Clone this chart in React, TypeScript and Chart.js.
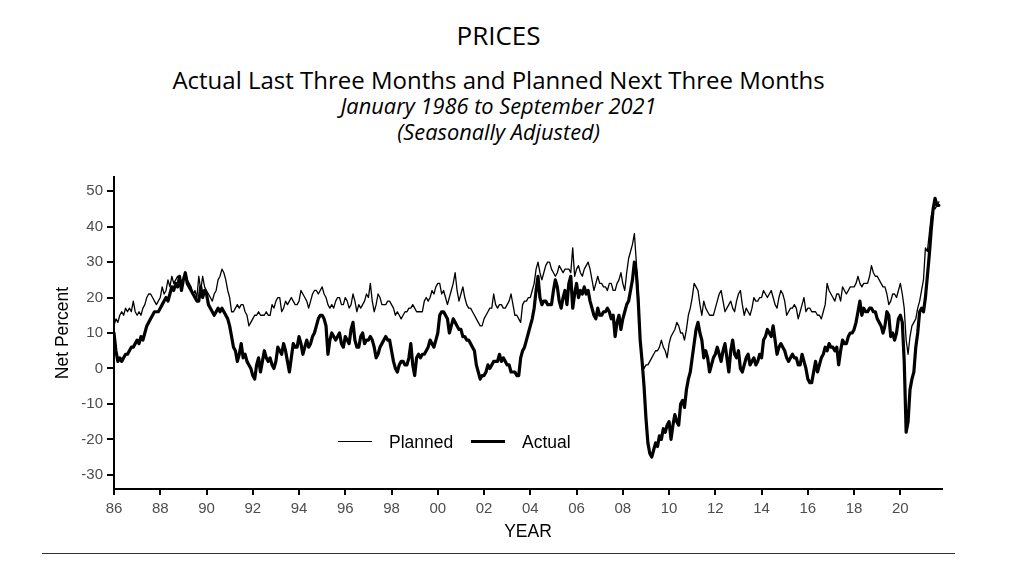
import React, { useEffect, useRef } from "react";
import { Chart, registerables } from "chart.js";

Chart.register(...registerables);

// Monthly data, January 1986 to September 2021
const START_YEAR = 1986;

const planned: number[] = [
  // 1986
  12, 14, 13, 15, 16, 15, 17, 16, 17, 16, 19, 16,
  // 1987
  15, 16, 15, 17, 18, 20, 21, 21, 20, 19, 18, 19,
  // 1988
  20, 23, 21, 22, 25, 23, 26, 24, 25, 26, 25, 24,
  // 1989
  25, 27, 25, 24, 23, 21, 22, 20, 26, 22, 26, 23,
  // 1990
  22, 21, 20, 19, 21, 22, 25, 26, 28, 27, 25, 22,
  // 1991
  20, 16, 16, 17, 18, 17, 18, 18, 16, 15, 12, 13,
  // 1992
  14, 15, 15, 16, 15, 15, 15, 16, 15, 15, 18, 17,
  // 1993
  19, 20, 20, 16, 17, 19, 18, 19, 20, 19, 18, 18,
  // 1994
  19, 22, 21, 20, 19, 17, 19, 21, 22, 22, 21, 22,
  // 1995
  23, 21, 20, 18, 17, 18, 17, 19, 20, 20, 18, 18,
  // 1996
  20, 19, 17, 18, 21, 19, 16, 18, 17, 18, 19, 21,
  // 1997
  20, 24, 19, 16, 18, 21, 20, 18, 18, 18, 19, 19,
  // 1998
  18, 17, 15, 16, 15, 14, 15, 16, 16, 17, 17, 18,
  // 1999
  17, 16, 16, 16, 16, 19, 20, 19, 20, 22, 21, 23,
  // 2000
  24, 24, 21, 22, 20, 18, 20, 22, 24, 27, 22, 19,
  // 2001
  21, 23, 20, 18, 17, 17, 16, 15, 14, 13, 12, 12,
  // 2002
  14, 15, 16, 17, 17, 21, 18, 17, 18, 18, 17, 17,
  // 2003
  18, 19, 21, 18, 15, 15, 14, 13, 18, 19, 19, 20,
  // 2004
  20, 22, 24, 28, 30, 27, 25, 27, 29, 30, 30, 28,
  // 2005
  27, 26, 27, 29, 28, 27, 28, 28, 28, 27, 34, 26,
  // 2006
  28, 29, 27, 26, 28, 29, 30, 28, 25, 22, 24, 26,
  // 2007
  24, 24, 23, 23, 22, 24, 24, 22, 22, 24, 25, 27,
  // 2008
  24, 22, 27, 31, 33, 35, 38, 30, 22, 8, 2, 0,
  // 2009
  1, 1, 2, 3, 4, 5, 5, 6, 8, 6, 5, 3,
  // 2010
  7, 9, 10, 11, 13, 12, 10, 10, 8, 11, 15, 17,
  // 2011
  20, 24, 23, 22, 18, 15, 19, 17, 16, 15, 15, 15,
  // 2012
  17, 19, 21, 22, 19, 16, 17, 18, 19, 17, 16, 19,
  // 2013
  21, 22, 18, 15, 17, 16, 15, 17, 20, 19, 19, 20,
  // 2014
  20, 22, 21, 20, 21, 22, 20, 18, 17, 20, 22, 21,
  // 2015
  19, 15, 16, 17, 17, 18, 17, 14, 16, 18, 20, 16,
  // 2016
  17, 17, 16, 16, 16, 15, 15, 14, 16, 18, 24, 22,
  // 2017
  21, 20, 19, 21, 21, 19, 23, 22, 21, 22, 23, 23,
  // 2018
  23, 24, 26, 24, 23, 24, 24, 24, 26, 29, 27, 26,
  // 2019
  26, 25, 24, 23, 23, 21, 18, 19, 21, 21, 20, 22,
  // 2020
  24, 21, 17, 8, 4, 9, 12, 13, 14, 17, 19, 22,
  // 2021
  25, 34, 33, 38, 43, 45, 45, 46, 47,
];

const actual: number[] = [
  // 1986
  10, 5, 2, 3, 2, 3, 4, 4, 5, 6, 6, 7,
  // 1987
  8, 7, 9, 8, 10, 12, 13, 14, 15, 16, 16, 16,
  // 1988
  17, 18, 19, 20, 19, 21, 23, 22, 24, 23, 26, 22,
  // 1989
  25, 27, 24, 23, 22, 21, 20, 19, 19, 23, 20, 22,
  // 1990
  21, 18, 17, 16, 15, 16, 17, 16, 17, 16, 15, 14,
  // 1991
  12, 9, 6, 5, 2, 4, 7, 3, 4, 2, 1, 0,
  // 1992
  -2, -3, 1, 3, -1, 2, 5, 3, 2, 3, 1, 0,
  // 1993
  2, 6, 5, 4, 7, 5, 2, -1, 3, 7, 6, 6,
  // 1994
  9, 7, 4, 6, 8, 6, 7, 9, 10, 12, 14, 15,
  // 1995
  15, 14, 12, 4, 8, 10, 9, 8, 9, 10, 7, 6,
  // 1996
  9, 8, 7, 11, 13, 8, 6, 6, 9, 10, 7, 8,
  // 1997
  8, 9, 8, 6, 3, 4, 6, 7, 8, 9, 8, 8,
  // 1998
  5, 2, 0, -1, 1, 2, 2, 1, 1, 3, 7, 1,
  // 1999
  -2, 3, 4, 3, 4, 4, 5, 6, 8, 7, 6, 8,
  // 2000
  10, 15, 16, 16, 15, 14, 10, 12, 14, 13, 12, 11,
  // 2001
  11, 9, 9, 8, 8, 7, 6, 5, 1, -1, -3, -2,
  // 2002
  -2, -1, 1, 0, 1, 2, 2, 2, 4, 2, 3, 2,
  // 2003
  1, 1, -1, -1, -1, -2, -2, 3, 5, 6, 8, 10,
  // 2004
  12, 14, 17, 22, 26, 20, 18, 19, 19, 18, 18, 18,
  // 2005
  22, 25, 23, 19, 17, 20, 22, 18, 24, 26, 17, 21,
  // 2006
  24, 20, 22, 21, 23, 21, 22, 19, 17, 15, 14, 17,
  // 2007
  15, 15, 16, 16, 17, 16, 14, 15, 9, 13, 15, 11,
  // 2008
  14, 16, 18, 19, 22, 25, 30, 27, 19, 8, 2, -5,
  // 2009
  -14, -21, -24, -25, -23, -21, -22, -19, -20, -17, -18, -16,
  // 2010
  -15, -20, -16, -13, -15, -16, -10, -9, -11, -6, -3, -1,
  // 2011
  3, 7, 11, 13, 10, 8, 3, 5, 3, -1, 1, 3,
  // 2012
  4, 6, 4, 2, 5, 7, 3, -1, 5, 8, 4, 3,
  // 2013
  5, 0, -1, 1, 3, 4, 1, 2, 3, 1, 2, 4,
  // 2014
  3, 8, 9, 11, 10, 9, 12, 8, 4, 6, 7, 6,
  // 2015
  5, 3, 2, 3, 4, 3, 3, 1, 1, 4, 2, 0,
  // 2016
  -3, -4, -4, -1, 2, -1, 1, 3, 4, 6, 5, 7,
  // 2017
  6, 6, 5, 6, 1, 5, 8, 7, 7, 9, 10, 10,
  // 2018
  11, 13, 16, 19, 15, 17, 16, 16, 17, 17, 16, 16,
  // 2019
  14, 13, 12, 10, 12, 16, 15, 9, 10, 8, 10, 14,
  // 2020
  15, 13, 2, -18, -15, -6, -3, -1, 6, 10, 16, 17,
  // 2021
  16, 20, 26, 32, 39, 45, 48, 46, 46,
];

const yTicks: number[] = [-30, -20, -10, 0, 10, 20, 30, 40, 50];
const xTickYears: number[] = [
  1986, 1988, 1990, 1992, 1994, 1996, 1998, 2000, 2002, 2004, 2006, 2008,
  2010, 2012, 2014, 2016, 2018, 2020,
];

const SANS = "'Liberation Sans', Arial, Helvetica, sans-serif";
const TITLE_FONT = "'Open Sans', 'Noto Sans', sans-serif";

const toPoints = (vals: number[]) =>
  vals.map((v, i) => ({ x: START_YEAR + i / 12, y: v }));

export default function App() {
  const canvasRef = useRef<HTMLCanvasElement | null>(null);

  useEffect(() => {
    const canvas = canvasRef.current;
    if (!canvas) return;
    const chart = new Chart(canvas, {
      type: "line",
      data: {
        datasets: [
          {
            label: "Planned",
            data: toPoints(planned),
            borderColor: "#000000",
            borderWidth: 1.3,
            borderJoinStyle: "round",
            borderCapStyle: "round",
            pointRadius: 0,
            tension: 0,
            fill: false,
            order: 1,
          },
          {
            label: "Actual",
            data: toPoints(actual),
            borderColor: "#000000",
            borderWidth: 3.2,
            borderJoinStyle: "round",
            borderCapStyle: "round",
            pointRadius: 0,
            tension: 0,
            fill: false,
            order: 0,
          },
        ],
      },
      options: {
        animation: false,
        responsive: false,
        maintainAspectRatio: false,
        events: [],
        layout: { padding: { left: 50, top: 177, right: 82, bottom: 13 } },
        plugins: {
          legend: { display: false },
          tooltip: { enabled: false },
          title: { display: false },
        },
        scales: {
          x: {
            type: "linear",
            min: 1986,
            max: 2021.8,
            afterBuildTicks: (scale: any) => {
              scale.ticks = xTickYears.map((v) => ({ value: v }));
            },
            afterFit: (scale: any) => {
              scale.height = 60;
            },
            grid: {
              drawOnChartArea: false,
              drawTicks: true,
              tickLength: 6,
              color: "#000000",
              lineWidth: 2,
            },
            border: { display: true, color: "#000000", width: 2 },
            ticks: {
              callback: (v: any) => String(v).slice(2),
              font: { family: SANS, size: 15 },
              color: "#4d4d4d",
              maxRotation: 0,
              autoSkip: false,
              padding: 5,
            },
            title: {
              display: true,
              text: "YEAR",
              font: { family: SANS, size: 17.5 },
              color: "#000000",
              padding: { top: 0, bottom: 6.5 },
            },
          },
          y: {
            type: "linear",
            min: -34,
            max: 54,
            afterBuildTicks: (scale: any) => {
              scale.ticks = yTicks.map((v) => ({ value: v }));
            },
            afterFit: (scale: any) => {
              scale.width = 64;
            },
            grid: {
              drawOnChartArea: false,
              drawTicks: true,
              tickLength: 7,
              color: "#000000",
              lineWidth: 2,
            },
            border: { display: true, color: "#000000", width: 2 },
            ticks: {
              font: { family: SANS, size: 15 },
              color: "#4d4d4d",
              padding: 4,
            },
            title: {
              display: true,
              text: "Net Percent",
              font: { family: SANS, size: 17.5 },
              color: "#000000",
              padding: { top: 3, bottom: 0 },
            },
          },
        },
      },
    });
    return () => chart.destroy();
  }, []);

  const center: React.CSSProperties = {
    position: "absolute",
    left: 0,
    width: 997,
    textAlign: "center",
    color: "#000",
    fontFamily: TITLE_FONT,
    whiteSpace: "nowrap",
  };

  const legendText: React.CSSProperties = {
    position: "absolute",
    top: 432,
    fontFamily: SANS,
    fontSize: 17.5,
    lineHeight: "20px",
    color: "#000",
    whiteSpace: "nowrap",
  };

  return (
    <div
      style={{
        position: "absolute",
        left: 0,
        top: 0,
        width: 1024,
        height: 562,
        background: "#ffffff",
        overflow: "hidden",
      }}
    >
      <div style={{ ...center, top: 22, fontSize: 26, lineHeight: "26px" }}>PRICES</div>
      <div style={{ ...center, top: 68, fontSize: 24, lineHeight: "24px" }}>
        Actual Last Three Months and Planned Next Three Months
      </div>
      <div style={{ ...center, top: 95, fontSize: 21.8, lineHeight: "21.8px", fontStyle: "italic" }}>
        January 1986 to September 2021
      </div>
      <div style={{ ...center, top: 121, fontSize: 21.8, lineHeight: "21.8px", fontStyle: "italic" }}>
        (Seasonally Adjusted)
      </div>
      <canvas
        ref={canvasRef}
        width={1024}
        height={562}
        style={{ position: "absolute", left: 0, top: 0, width: 1024, height: 562 }}
      />
      <div style={{ position: "absolute", left: 338, top: 441, width: 34, height: 1.3, background: "#000" }} />
      <div style={{ ...legendText, left: 389 }}>Planned</div>
      <div style={{ position: "absolute", left: 471, top: 440, width: 34, height: 3.3, background: "#000" }} />
      <div style={{ ...legendText, left: 522 }}>Actual</div>
      <div style={{ position: "absolute", left: 42, top: 553, width: 913, height: 1, background: "#333" }} />
    </div>
  );
}
